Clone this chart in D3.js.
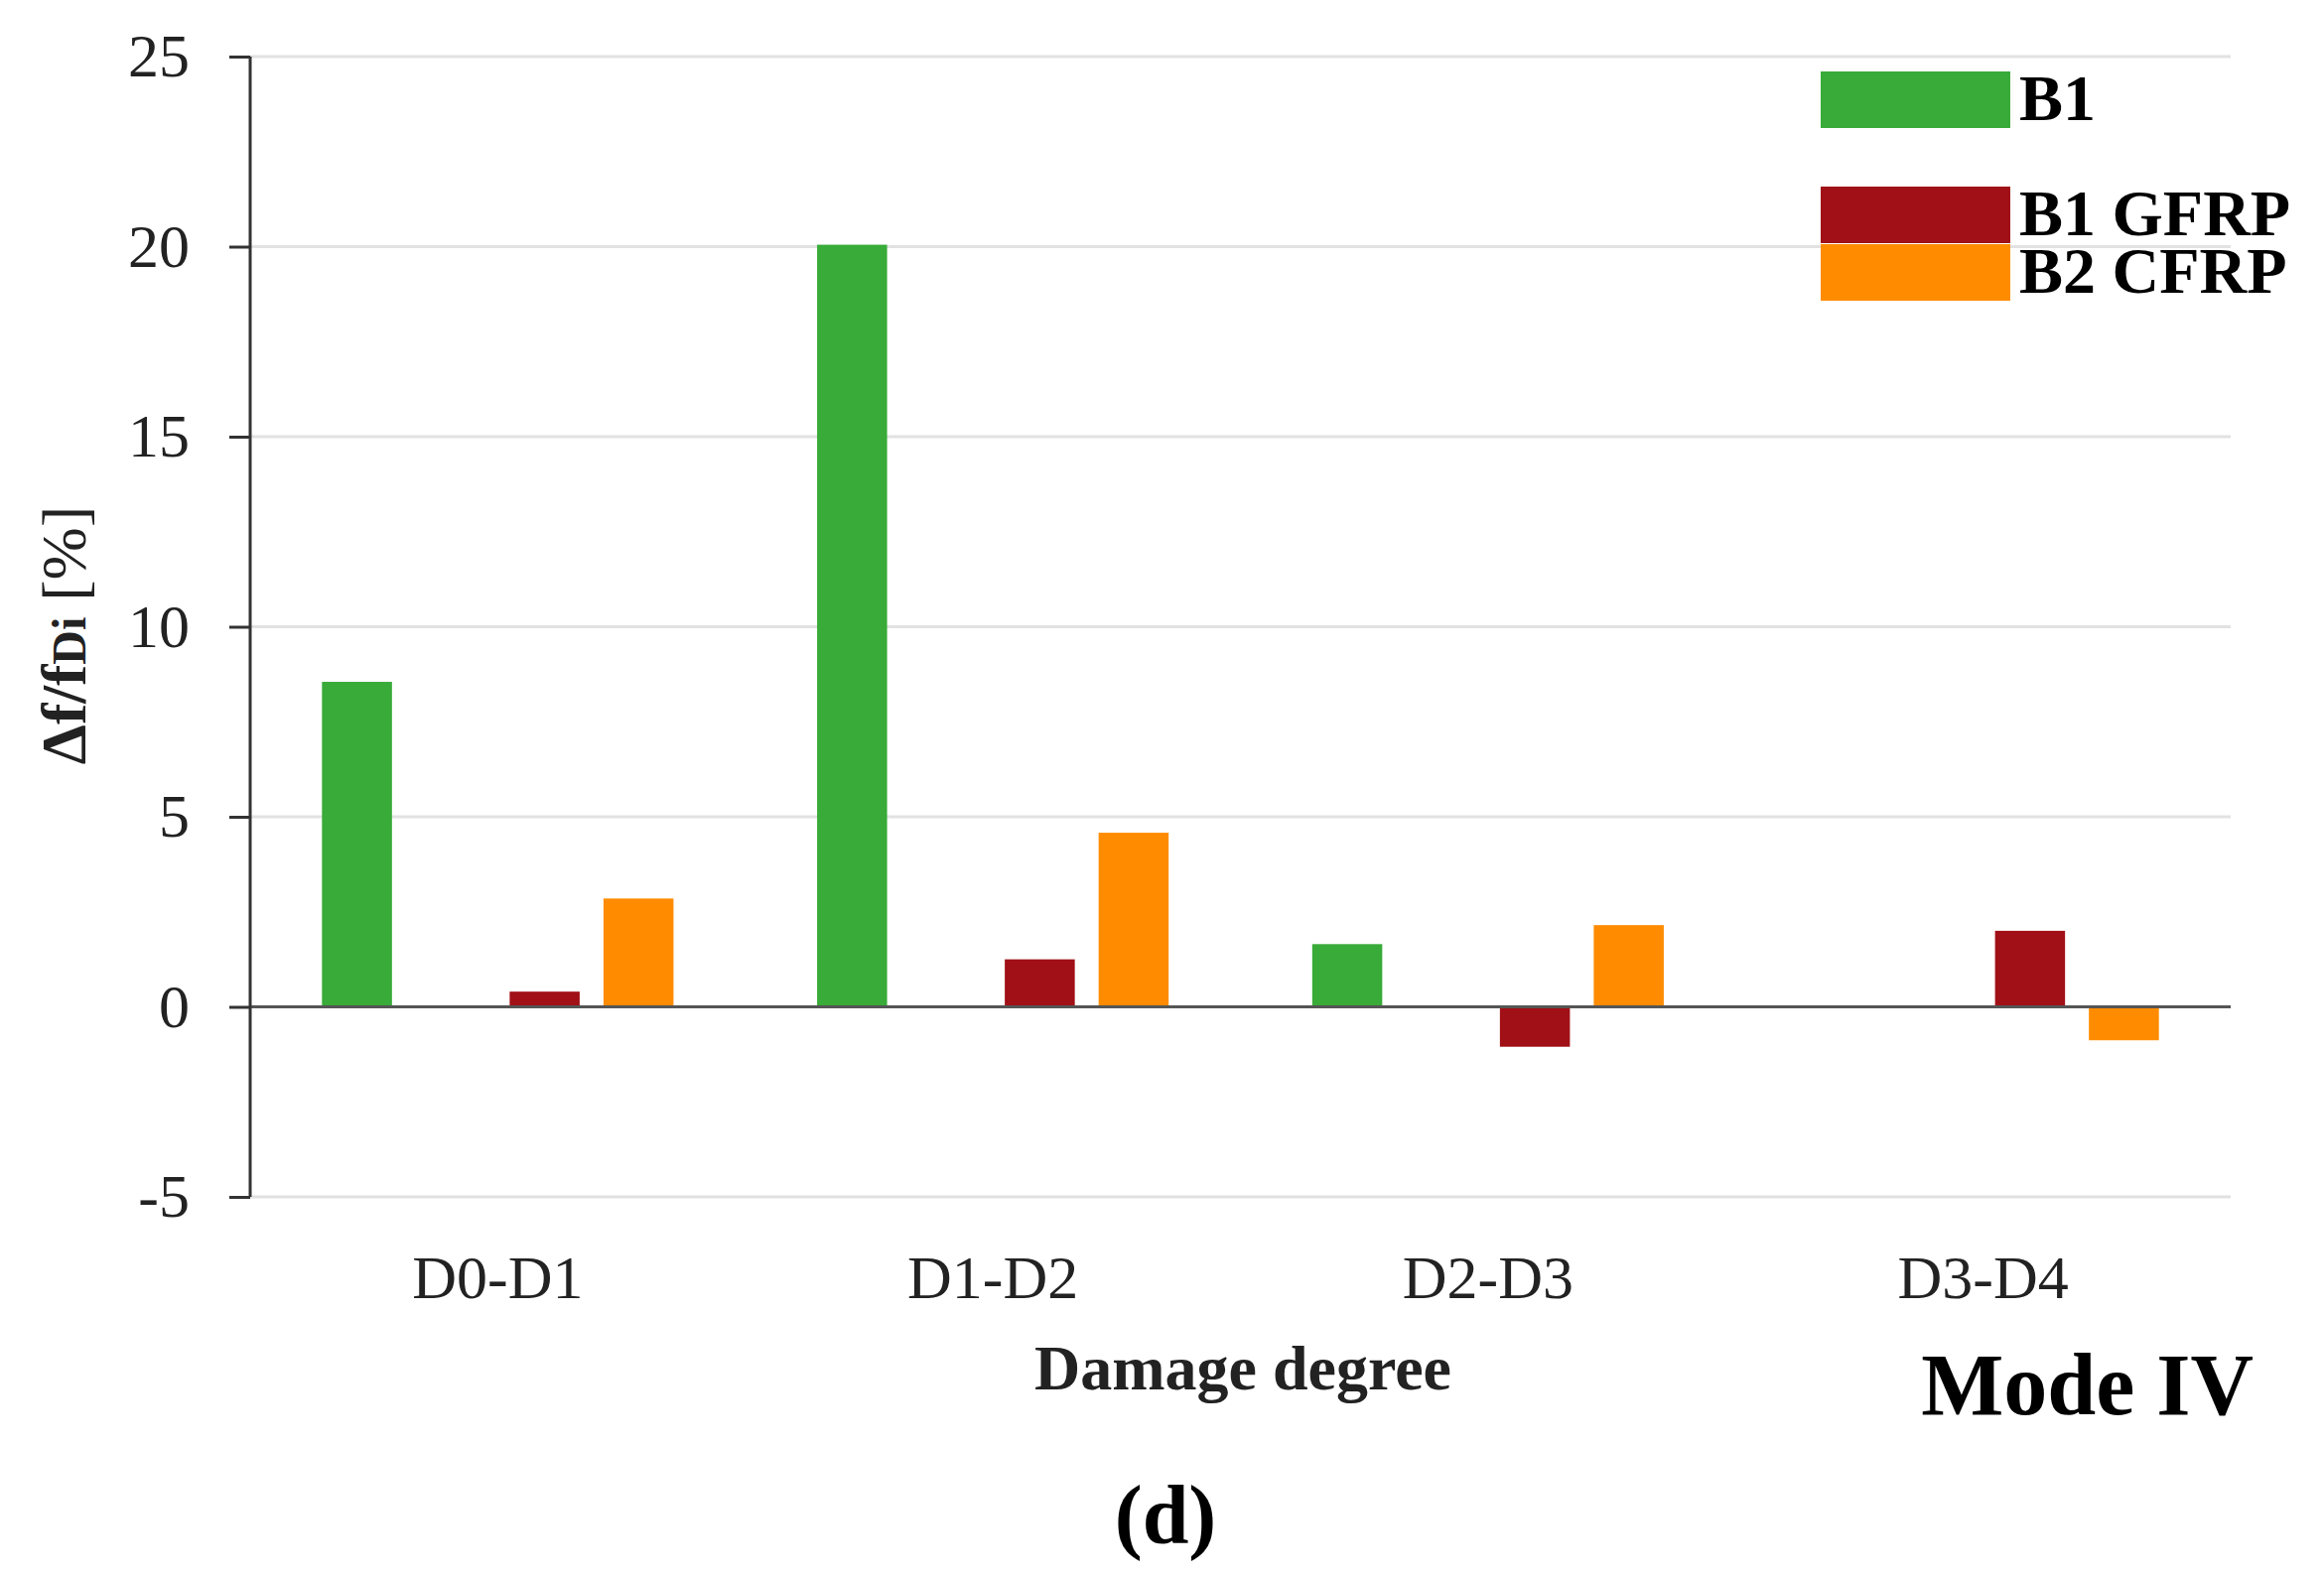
<!DOCTYPE html>
<html>
<head>
<meta charset="utf-8">
<script src="https://cdn.jsdelivr.net/npm/d3@7"></script>
<style>
  body { margin: 0; background: #fff; }
  svg { display: block; font-family: "Liberation Serif", "Times New Roman", serif; }
</style>
</head>
<body>
<svg id="chart" width="2341" height="1588"></svg>
<script>
// damage steps on the x axis
var categories = ["D0-D1", "D1-D2", "D2-D3", "D3-D4"];

// series names (second slot is an empty series kept in the original chart)
var seriesNames = ["B1", "", "B1 GFRP", "B2 CFRP"];
var seriesColors = ["#38ab38", "#8fa8d8", "#a01016", "#ff8c00"];

// values in %
var b1Values     = [8.55, 20.05, 1.65, 0];
var blankValues  = [0, 0, 0, 0];
var b1GfrpValues = [0.4, 1.25, -1.05, 2.0];
var b2CfrpValues = [2.85, 4.58, 2.15, -0.88];

var yTicks = [-5, 0, 5, 10, 15, 20, 25];

var seriesValues = [b1Values, blankValues, b1GfrpValues, b2CfrpValues];

var svg = d3.select("#chart"),
    width = +svg.attr("width"),
    height = +svg.attr("height"),
    margin = {top: 57, right: 94, bottom: 382, left: 252},
    plotW = width - margin.left - margin.right,
    plotH = height - margin.top - margin.bottom;

var g = svg.append("g")
  .attr("transform", "translate(" + margin.left + "," + margin.top + ")");

var x0 = d3.scaleBand()
  .domain(categories)
  .range([0, plotW])
  .paddingInner(0.29)
  .paddingOuter(0.145);

var x1 = d3.scaleBand()
  .domain(d3.range(seriesNames.length))
  .range([0, x0.bandwidth()])
  .paddingInner(0.254);

var y = d3.scaleLinear()
  .domain([-5, 25])
  .range([plotH, 0]);

// gridlines
g.append("g")
  .selectAll("line")
  .data(yTicks)
  .enter().append("line")
  .attr("x1", 0)
  .attr("x2", plotW)
  .attr("y1", function(d) { return y(d); })
  .attr("y2", function(d) { return y(d); })
  .style("stroke", "#e2e2e2")
  .style("stroke-width", 3);

// bars
var rows = categories.map(function(c, i) {
  return {cat: c, vals: seriesValues.map(function(s) { return s[i]; })};
});

var groups = g.append("g")
  .selectAll("g")
  .data(rows)
  .enter().append("g")
  .attr("transform", function(d) { return "translate(" + x0(d.cat) + ",0)"; });

groups.selectAll("rect")
  .data(function(d) { return d.vals.map(function(v, k) { return {k: k, v: v}; }); })
  .enter().append("rect")
  .attr("x", function(d) { return x1(d.k); })
  .attr("width", x1.bandwidth())
  .attr("y", function(d) { return y(Math.max(0, d.v)); })
  .attr("height", function(d) { return Math.abs(y(d.v) - y(0)); })
  .style("fill", function(d) { return seriesColors[d.k]; });

// zero line
g.append("line")
  .attr("x1", 0)
  .attr("x2", plotW)
  .attr("y1", y(0))
  .attr("y2", y(0))
  .style("stroke", "#555")
  .style("stroke-width", 3);

// y axis
var yAxis = g.append("g")
  .call(d3.axisLeft(y).tickValues(yTicks).tickSize(21).tickPadding(40)
    .tickFormat(function(d) { return String(d); }));

yAxis.select(".domain").style("stroke", "#333").style("stroke-width", 3).attr("d", "M0," + y(25) + "V" + y(-5));
yAxis.selectAll(".tick line").style("stroke", "#333").style("stroke-width", 3);
yAxis.selectAll(".tick text")
  .style("font-family", "Liberation Serif")
  .style("font-size", "62px")
  .style("fill", "#222");

// category labels
g.append("g")
  .selectAll("text")
  .data(categories)
  .enter().append("text")
  .attr("x", function(d) { return x0(d) + x0.bandwidth() / 2; })
  .attr("y", 1308 - margin.top)
  .attr("text-anchor", "middle")
  .style("font-size", "62px")
  .style("fill", "#222")
  .text(function(d) { return d; });

// x axis title
svg.append("text")
  .attr("x", 1252)
  .attr("y", 1400)
  .attr("text-anchor", "middle")
  .style("font-size", "64px")
  .style("font-weight", "bold")
  .style("fill", "#222")
  .text("Damage degree");

// y axis title
var yTitle = svg.append("text")
  .attr("transform", "translate(86,640) rotate(-90)")
  .attr("text-anchor", "middle")
  .style("font-size", "64px")
  .style("fill", "#222");
yTitle.append("tspan").style("font-weight", "bold").text("Δf/f");
yTitle.append("tspan").style("font-weight", "bold").style("font-size", "48px").text("Di");
yTitle.append("tspan").text(" [%]");

// legend
var legend = svg.append("g")
  .selectAll("g")
  .data(seriesNames.map(function(n, i) { return {name: n, i: i}; }).filter(function(d) { return d.name; }))
  .enter().append("g")
  .attr("transform", function(d) { return "translate(1834," + (72 + d.i * 58) + ")"; });

legend.append("rect")
  .attr("width", 191)
  .attr("height", 57)
  .style("fill", function(d) { return seriesColors[d.i]; });

legend.append("text")
  .attr("x", 200)
  .attr("y", 49)
  .style("font-size", "66px")
  .style("font-weight", "bold")
  .style("fill", "#000")
  .text(function(d) { return d.name; });

// mode tag and panel letter
svg.append("text")
  .attr("x", 2270)
  .attr("y", 1425)
  .attr("text-anchor", "end")
  .style("font-size", "88px")
  .style("font-weight", "bold")
  .text("Mode IV");

svg.append("text")
  .attr("x", 1174)
  .attr("y", 1555)
  .attr("text-anchor", "middle")
  .style("font-size", "84px")
  .style("font-weight", "bold")
  .text("(d)");
</script>
</body>
</html>
